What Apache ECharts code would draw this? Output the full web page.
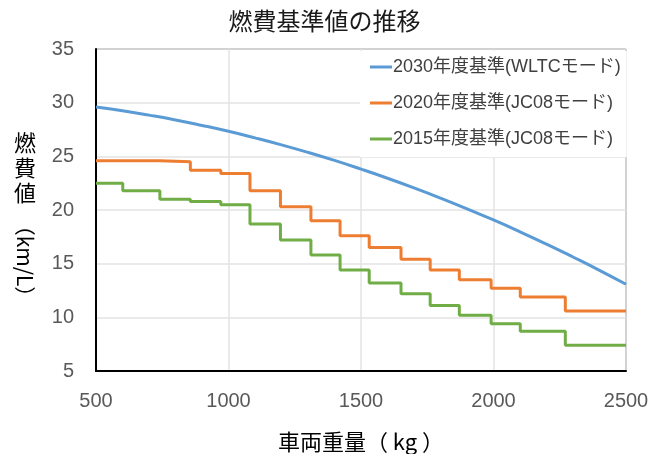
<!DOCTYPE html>
<html>
<head>
<meta charset="utf-8">
<script src="https://cdn.jsdelivr.net/npm/echarts@6/dist/echarts.min.js"></script>
<style>
  html, body { margin: 0; padding: 0; background: #fff; }
  #chart { width: 649px; height: 454px; }
</style>
</head>
<body>
<div id="chart"></div>
<script>
// 2030年度基準 (WLTC) 車両重量ごとの値
const mass2030 = [500, 600, 700, 800, 900, 1000, 1100, 1200, 1300, 1400, 1500,
  1600, 1700, 1800, 1900, 2000, 2100, 2200, 2300, 2400, 2500];
const fe2030 = [29.6, 29.25, 28.84, 28.39, 27.88, 27.33, 26.72, 26.07, 25.37, 24.62, 23.81,
  22.96, 22.06, 21.11, 20.11, 19.07, 17.97, 16.82, 15.62, 14.38, 13.08];

// 2020年度基準 (JC08) 区分の下限重量と値
const mass2020 = [500, 741, 856, 971, 1081, 1196, 1311, 1421, 1531, 1651, 1761, 1871, 1991, 2101, 2271, 2500];
const fe2020 = [24.6, 24.5, 23.7, 23.4, 21.8, 20.3, 19.0, 17.6, 16.5, 15.4, 14.4, 13.5, 12.7, 11.9, 10.6, 10.6];

// 2015年度基準 (JC08)
const mass2015 = [500, 601, 741, 856, 971, 1081, 1196, 1311, 1421, 1531, 1651, 1761, 1871, 1991, 2101, 2271, 2500];
const fe2015 = [22.5, 21.8, 21.0, 20.8, 20.5, 18.7, 17.2, 15.8, 14.4, 13.2, 12.2, 11.1, 10.2, 9.4, 8.7, 7.4, 7.4];

const seriesNames = ['2030年度基準(WLTCモード)', '2020年度基準(JC08モード)', '2015年度基準(JC08モード)'];

function pairs(xs, ys) {
  return xs.map((x, i) => [x, ys[i]]);
}

const latinFont = "'Liberation Sans', 'Noto Sans CJK JP', sans-serif";
const cjkFont = "'Noto Sans CJK JP', sans-serif";

let chart = echarts.init(document.getElementById('chart'));
let option = {
  animation: false,
  color: ['#5B9BD5', '#ED7D31', '#70AD47'],
  title: {
    text: '燃費基準値の推移',
    left: 'center',
    top: 4,
    textStyle: { fontFamily: cjkFont, fontSize: 24, fontWeight: 'normal', color: '#1a1a1a' }
  },
  grid: {
    left: 96, right: 23, top: 49, bottom: 83,
    outerBoundsMode: 'none',
    show: true, borderColor: '#404040', borderWidth: 1
  },
  legend: {
    data: seriesNames,
    orient: 'vertical',
    left: 360, top: 51,
    padding: [6, 6, 8, 10],
    backgroundColor: '#fff',
    itemWidth: 22, itemHeight: 3, itemGap: 16,
    icon: 'rect',
    textStyle: { fontFamily: latinFont, fontSize: 18, lineHeight: 20, color: '#404040', padding: [0, 0, 0, -4] }
  },
  xAxis: {
    type: 'value',
    min: 500, max: 2500, interval: 500,
    name: '車両重量（ kg ）',
    nameLocation: 'middle',
    nameGap: 60,
    nameTextStyle: { fontFamily: cjkFont, fontSize: 22, color: '#000' },
    axisLine: { lineStyle: { color: '#000', width: 2 } },
    axisTick: { show: false },
    axisLabel: { fontFamily: latinFont, fontSize: 20, color: '#595959', margin: 20, formatter: v => String(v) },
    splitLine: { lineStyle: { color: '#e3e3e3', width: 1.5 } }
  },
  yAxis: {
    type: 'value',
    min: 5, max: 35, interval: 5,
    axisLine: { show: true, lineStyle: { color: '#000', width: 2 } },
    axisTick: { show: false },
    axisLabel: { fontFamily: latinFont, fontSize: 20, color: '#595959', margin: 22 },
    splitLine: { lineStyle: { color: '#e3e3e3', width: 1.5 } }
  },
  graphic: [
    {
      type: 'text', left: 14, top: 130,
      style: { text: '燃\n費\n値', fontFamily: cjkFont, fontSize: 22, lineHeight: 25, fill: '#000' }
    },
    {
      type: 'text', x: 25, y: 261, rotation: -Math.PI / 2,
      style: { text: '（km/L）', fontFamily: cjkFont, fontSize: 21, fill: '#000', align: 'center', verticalAlign: 'middle' }
    }
  ],
  series: [
    { name: seriesNames[0], type: 'line', data: pairs(mass2030, fe2030), showSymbol: false, smooth: true, lineStyle: { width: 3 } },
    { name: seriesNames[1], type: 'line', data: pairs(mass2020, fe2020), showSymbol: false, step: 'end', lineStyle: { width: 3 } },
    { name: seriesNames[2], type: 'line', data: pairs(mass2015, fe2015), showSymbol: false, step: 'end', lineStyle: { width: 3 } }
  ]
};
chart.setOption(option);
</script>
</body>
</html>
